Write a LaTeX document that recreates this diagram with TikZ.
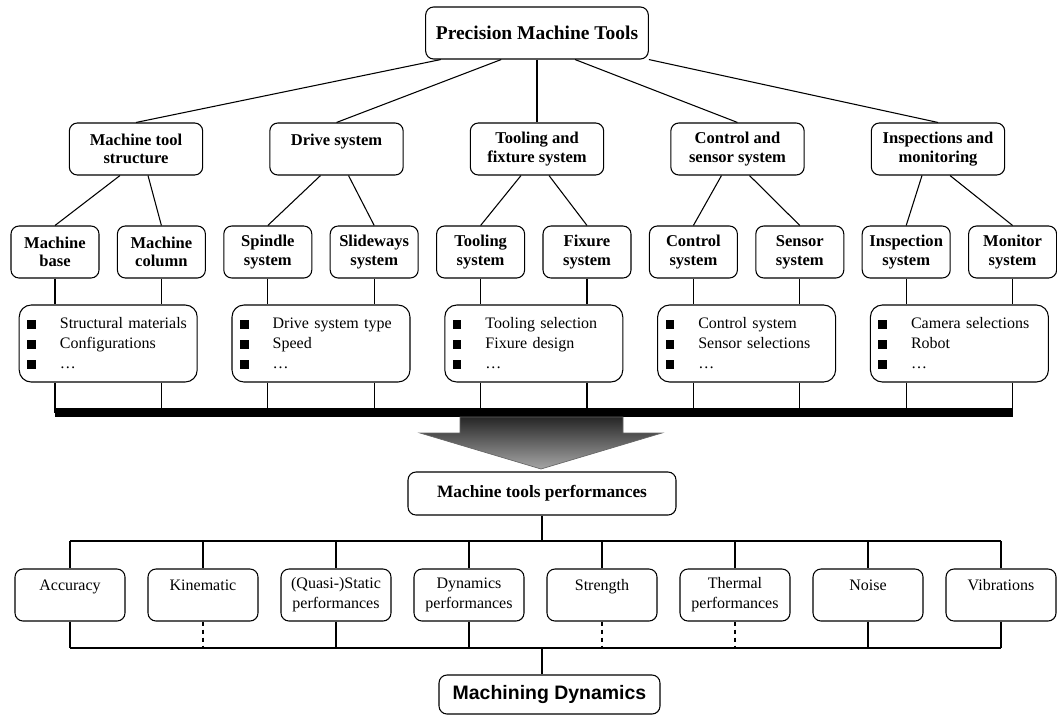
\documentclass[tikz,border=0pt]{standalone}
\usepackage{fontspec}
\setmainfont{Liberation Serif}
\setsansfont{Liberation Sans}
\usetikzlibrary{calc}

\newcommand\itemsq{\makebox[24.5pt][l]{\rule{6.5pt}{6.5pt}}}

\tikzset{
	rbox/.style={draw, rounded corners=6pt, inner sep=0pt, align=center},
	headbox/.style={rbox, minimum width=167pt, minimum height=39pt, font=\bfseries\fontsize{14.6}{17}\selectfont},
	groupbox/.style={rbox, minimum width=100pt, minimum height=39pt, font=\bfseries\fontsize{12.4}{14}\selectfont},
	subbox/.style={rbox, minimum width=66pt, minimum height=39pt, font=\bfseries\fontsize{12.4}{14}\selectfont},
	itembox/.style={draw, rounded corners=9pt, inner xsep=6pt, inner ysep=0pt, align=left, text width=121.5pt, minimum height=57.75pt, font=\fontsize{12}{15}\selectfont},
	perfbox/.style={rbox, minimum width=201pt, minimum height=32.25pt, font=\bfseries\fontsize{13}{15}\selectfont},
	aspectbox/.style={rbox, minimum width=82.5pt, minimum height=39pt, font=\fontsize{12}{15}\selectfont},
	resultbox/.style={rbox, minimum width=165.75pt, minimum height=29.25pt, font=\sffamily\bfseries\fontsize{14.6}{17}\selectfont}
}

\begin{document}
\begin{tikzpicture}[x=0.75pt, y=-0.75pt, line width=0.8pt]
	\useasboundingbox (0,0) rectangle (1057,715);
	
	\node[headbox] (ptools) at (537,33) {Precision Machine Tools};
	
	\foreach \n/\t [count=\i from 0] in {mts/Machine tool\\structure, drv/Drive system\\~, tfs/Tooling and\\fixture system, css/Control and\\sensor system, ims/Inspections and\\monitoring}
		\node[groupbox] (\n) at ({136+200.5*\i},149) {\t};
	
	\foreach \n/\f in {mts/.07, drv/.34, tfs/.5, css/.67, ims/1}
		\draw ($(ptools.south west)!\f!(ptools.south east)$) -- (\n.north);
	
	\foreach \n/\t [count=\i from 0] in {base/Machine\\base, col/Machine\\column, spin/Spindle\\system, slide/Slideways\\system, tool/Tooling\\system, fix/Fixure\\system, ctrl/Control\\system, sens/Sensor\\system, insp/Inspection\\system, mon/Monitor\\system}
		\node[subbox] (\n) at ({55+106.4*\i},252) {\t};
	
	\foreach \p/\a/\b in {mts/base/col, drv/spin/slide, tfs/tool/fix, css/ctrl/sens, ims/insp/mon}
	{
		\draw ($(\p.south)+(-16,0)$) -- (\a.north);
		\draw ($(\p.south)+(12,0)$) -- (\b.north);
	}
	
	\coordinate (bar) at (0,412.5);
	
	\foreach \n/\a/\b/\u/\v [count=\i from 0] in {it1/base/col/Structural materials/Configurations, it2/spin/slide/Drive system type/Speed, it3/tool/fix/Tooling selection/Fixure design, it4/ctrl/sens/Control system/Sensor selections, it5/insp/mon/Camera selections/Robot}
	{
		\node[itembox] (\n) at ({108.2+212.8*\i},343.5) {\itemsq \u\\ \itemsq \v\\ \itemsq \dots};
		\draw (\a.south) -- (\a.south |- \n.north);
		\draw (\b.south) -- (\b.south |- \n.north);
		\draw (\a.south |- \n.south) -- (\a |- bar);
		\draw (\b.south |- \n.south) -- (\b |- bar);
	}
	
	\draw[line width=6.75pt] (base |- bar) -- (mon |- bar);
	
	\shade[top color=black!85, bottom color=black!35, draw=black!60, line width=0.5pt] (460,417) -- (460,433) -- (420,433) -- (541,469) -- (662,433) -- (623,433) -- (623,417) -- cycle;
	
	\node[perfbox] (perf) at (542,493.5) {Machine tools performances};
	
	\coordinate (upper) at (0,541);
	\coordinate (lower) at (0,648);
	
	\foreach \n/\t [count=\i from 0] in {acc/Accuracy\\~, kin/Kinematic\\~, qs/(Quasi-)Static\\performances, dyn/Dynamics\\performances, str/Strength\\~, th/Thermal\\performances, noi/Noise\\~, vib/Vibrations\\~}
		\node[aspectbox] (\n) at ({70+133*\i},595) {\t};
	
	\draw (perf.south) -- (perf.south |- upper);
	\draw (acc |- upper) -- (vib |- upper);
	\draw (acc |- lower) -- (vib |- lower);
	
	\foreach \n/\s in {acc/solid, kin/dashed, qs/solid, dyn/solid, str/dashed, th/dashed, noi/solid, vib/solid}
	{
		\draw (\n |- upper) -- (\n.north);
		\draw[\s] (\n.south) -- (\n |- lower);
	}
	
	\node[resultbox] (md) at (549.5,694.5) {Machining Dynamics};
	\draw (perf.south |- lower) -- (md.north -| perf.south);
	
\end{tikzpicture}
\end{document}
